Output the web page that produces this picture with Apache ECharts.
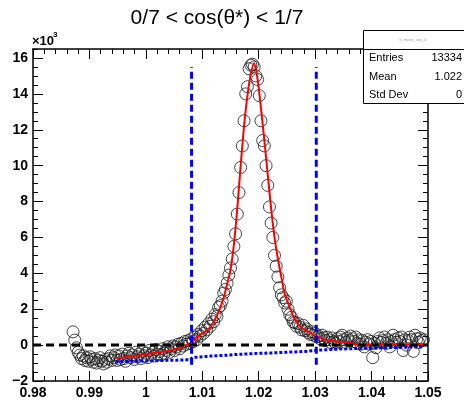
<!DOCTYPE html>
<html><head><meta charset="utf-8">
<script src="https://cdn.jsdelivr.net/npm/echarts@6/dist/echarts.min.js"></script>
<style>html,body{margin:0;padding:0;background:#fff}#c{width:464px;height:407px}</style>
</head><body><div id="c"></div>
<script>
// ---- data (values in units of 10^3) ----
const xStart = 0.9871, xStep = 0.0003;
const counts = [
0.74,0.28,-0.15,-0.4,-0.55,-0.75,-0.6,-0.85,-0.7,-0.9,
-0.65,-0.8,-0.95,-0.75,-1.0,-0.85,-0.7,-0.9,-1.05,-0.8,
-0.95,-0.75,-0.6,-0.85,-0.7,
-0.55,-0.85,-0.6,-0.8,-0.5,-0.75,-0.9,-0.6,-0.45,-0.7,
-0.55,-0.8,-0.4,-0.65,-0.5,-0.75,-0.35,-0.6,-0.45,-0.7,
-0.3,-0.55,-0.4,-0.6,-0.25,-0.5,-0.35,-0.55,-0.2,-0.45,
-0.3,-0.1,-0.4,-0.2,-0.05,-0.3,-0.1,0.05,-0.2,0.1,
-0.05,0.2,0.05,0.25,0.1,0.35,0.2,0.45,0.3,0.6,
0.5,0.8,0.65,1.0,0.85,1.2,1.05,1.45,1.3,1.7,
1.6,2.1,2.2,2.45,2.9,3.1,3.45,3.9,4.3,4.8,
5.5,6.2,7.3,8.5,9.9,11.1,12.5,14.0,14.4,15.4,
15.6,15.65,
15.5,15.0,14.8,13.9,12.5,11.4,11.1,10.0,8.9,7.7,
6.8,6.0,5.0,4.4,3.8,3.2,2.8,2.65,2.35,2.45,
2.0,1.7,1.55,1.3,1.25,1.05,1.2,1.0,0.85,1.1,
0.8,0.9,0.7,0.6,0.75,0.55,0.65,0.45,0.5,0.35,
0.55,0.4,0.25,0.45,0.3,0.15,0.4,0.2,0.1,0.35,
0.2,0.45,0.55,0.3,0.15,0.4,0.25,0.5,0.35,0.2,
0.45,0.1,0.3,0.05,0.25,-0.1,0.15,0.3,0.05,0.2,
-0.7,0.1,-0.15,0.2,0.4,0.15,0.25,0.45,0.1,0.3,
-0.1,0.2,0.55,0.3,0.15,0.4,0.2,0.45,-0.3,0.3,
0.0,0.25,0.45,0.3,-0.35,0.55,0.35,0.15,0.4,0.25,
0.3
];
const fitStart = 0.9946, fitStep = 0.0006;
const fitValues = [
-0.73,-0.71,-0.69,-0.67,-0.64,-0.62,-0.59,-0.56,-0.53,-0.51,
-0.48,-0.46,-0.43,-0.40,-0.37,-0.34,-0.30,-0.26,-0.20,-0.14,
-0.06,0.01,0.10,0.26,0.42,0.57,0.70,0.82,1.0,1.3,
1.65,2.1,2.65,3.4,4.2,5.6,7.6,10.0,12.2,13.9,
15.1,15.7,14.8,13.2,11.4,9.5,7.6,6.0,4.8,3.8,
2.85,2.35,1.85,1.45,1.15,0.97,0.85,0.75,0.62,0.52,
0.45,0.38,0.30,0.26,0.23,0.21,0.19,0.18,0.18,0.18,
0.10,0.03,0.03,0.03,0.03,0.03,0.03,0.03,0.03,0.03,
0.03,0.03,0.03,0.03,0.03,0.03,0.03,0.03,0.03,0.03,
0.03,0.03
];
const bkgValues = [
-0.93,-0.92,-0.92,-0.91,-0.91,-0.90,-0.90,-0.89,-0.89,-0.88,
-0.88,-0.87,-0.87,-0.86,-0.86,-0.85,-0.85,-0.84,-0.84,-0.83,
-0.83,-0.82,-0.82,-0.68,-0.67,-0.66,-0.64,-0.63,-0.61,-0.60,
-0.59,-0.58,-0.57,-0.56,-0.55,-0.53,-0.52,-0.51,-0.50,-0.49,
-0.48,-0.47,-0.46,-0.46,-0.45,-0.44,-0.44,-0.43,-0.42,-0.41,
-0.40,-0.39,-0.39,-0.38,-0.37,-0.36,-0.35,-0.33,-0.31,-0.30,
-0.28,-0.27,-0.26,-0.25,-0.24,-0.23,-0.22,-0.21,-0.21,-0.20,
-0.20,-0.19,-0.19,-0.18,-0.18,-0.17,-0.17,-0.16,-0.16,-0.15,
-0.15,-0.14,-0.14,-0.13,-0.13,-0.12,-0.12,-0.11,-0.11,-0.10,
-0.10,-0.09
];
const cutPositions = [1.0081, 1.0302];
const cutRange = [-1.1, 15.5];
const zeroLine = [0];
const xRange = [0.98, 1.05];
const yRange = [-2, 16.5];
const statsNames = ['Entries', 'Mean', 'Std Dev'];
const statsValues = ['13334', '1.022', '0'];
const titleText = '0/7 < cos(\u03b8*) < 1/7';

// ---- chart ----
const FONT = '"Liberation Sans", Arial, Helvetica, sans-serif';
const G = {left: 33, right: 36, top: 49, bottom: 26};

function mkX(gridIndex, pos, interval, len, showLabel, showLine) {
  return {
    type: 'value', gridIndex, position: pos, min: xRange[0], max: xRange[1], interval,
    axisLine: {show: showLine, onZero: false, lineStyle: {color: '#000', width: 1.5}},
    axisTick: {show: true, inside: true, length: len, lineStyle: {color: '#000', width: 1}},
    axisLabel: {show: showLabel, color: '#000', fontFamily: FONT, fontWeight: 'bold', fontSize: 14, margin: 5,
      formatter: v => String(+(+v).toFixed(2))},
    splitLine: {show: false}
  };
}
function mkY(gridIndex, pos, interval, len, showLabel, showLine) {
  return {
    type: 'value', gridIndex, position: pos, min: yRange[0], max: yRange[1], interval,
    axisLine: {show: showLine, onZero: false, lineStyle: {color: '#000', width: 1.5}},
    axisTick: {show: true, inside: true, length: len, lineStyle: {color: '#000', width: 1}},
    axisLabel: {show: showLabel, showMaxLabel: false, color: '#000', fontFamily: FONT, fontWeight: 'bold', fontSize: 14, margin: 5,
      formatter: v => String(Math.round(v)).replace('-', '\u2212')},
    splitLine: {show: false}
  };
}

const dataPts = counts.map((v, i) => [xStart + i * xStep, v]);
const fitPts = fitValues.map((v, k) => [fitStart + k * fitStep, v]);
const bkgPts = bkgValues.map((v, k) => [fitStart + k * fitStep, v]);

const series = [
  {type: 'scatter', data: dataPts, symbol: 'circle', symbolSize: 12, z: 2,
   itemStyle: {color: 'rgba(0,0,0,0)', borderColor: '#1a1a1a', borderWidth: 1}, silent: true, animation: false},
  {type: 'line', data: fitPts, smooth: 0.3, showSymbol: false, z: 3,
   lineStyle: {color: '#ff0000', width: 2}, animation: false},
  {type: 'line', data: bkgPts, showSymbol: false, z: 4,
   lineStyle: {color: '#0000ff', width: 3, type: [3, 2]}, animation: false},
  {type: 'line', data: [[xRange[0], zeroLine[0]], [xRange[1], zeroLine[0]]], showSymbol: false, z: 5,
   lineStyle: {color: '#000', width: 3, type: [8, 5]}, animation: false}
];
cutPositions.forEach(c => series.push({
  type: 'line', data: [[c, cutRange[0]], [c, cutRange[1]]], showSymbol: false, z: 6,
  lineStyle: {color: '#0000ff', width: 3, type: [7, 4]}, animation: false
}));

const chart = echarts.init(document.getElementById('c'), null, {renderer: 'canvas'});
chart.setOption({
  animation: false,
  backgroundColor: '#fff',
  grid: [Object.assign({}, G), Object.assign({}, G)],
  xAxis: [mkX(0, 'bottom', 0.01, 10, true, true), mkX(0, 'top', 0.01, 10, false, true),
          mkX(1, 'bottom', 0.002, 5, false, false), mkX(1, 'top', 0.002, 5, false, false)],
  yAxis: [mkY(0, 'left', 2, 10, true, true), mkY(0, 'right', 2, 10, false, true),
          mkY(1, 'left', 0.5, 5, false, false), mkY(1, 'right', 0.5, 5, false, false)],
  series: series,
  graphic: [
    {type: 'text', x: 217, y: 18, z: 100, style: {text: titleText, fontFamily: FONT, fontSize: 21, fill: '#000', align: 'center', verticalAlign: 'middle'}},
    {type: 'text', x: 32, y: 41, z: 100, style: {text: '\u00d710', fontFamily: FONT, fontWeight: 'bold', fontSize: 13, fill: '#000', verticalAlign: 'middle'}},
    {type: 'text', x: 53, y: 35, z: 100, style: {text: '3', fontFamily: FONT, fontWeight: 'bold', fontSize: 8, fill: '#000', verticalAlign: 'middle'}},
    {type: 'rect', z: 100, shape: {x: 363.5, y: 30.5, width: 120, height: 73}, style: {fill: '#fff', stroke: '#000', lineWidth: 1}},
    {type: 'line', z: 101, shape: {x1: 363.5, y1: 49.5, x2: 464, y2: 49.5}, style: {stroke: '#000', lineWidth: 1}},
    {type: 'text', x: 413, y: 40, z: 101, style: {text: 'h_mass_cos_0', fontFamily: FONT, fontSize: 4, fill: '#999', align: 'center', verticalAlign: 'middle'}},
    ...statsNames.map((n, i) => ({type: 'text', x: 369, y: 58 + i * 18.5, z: 101, style: {text: n, fontFamily: FONT, fontSize: 11, fill: '#000', verticalAlign: 'middle'}})),
    ...statsValues.map((n, i) => ({type: 'text', x: 462, y: 58 + i * 18.5, z: 101, style: {text: n, fontFamily: FONT, fontSize: 11, fill: '#000', align: 'right', verticalAlign: 'middle'}}))
  ]
});
</script>
</body></html>
